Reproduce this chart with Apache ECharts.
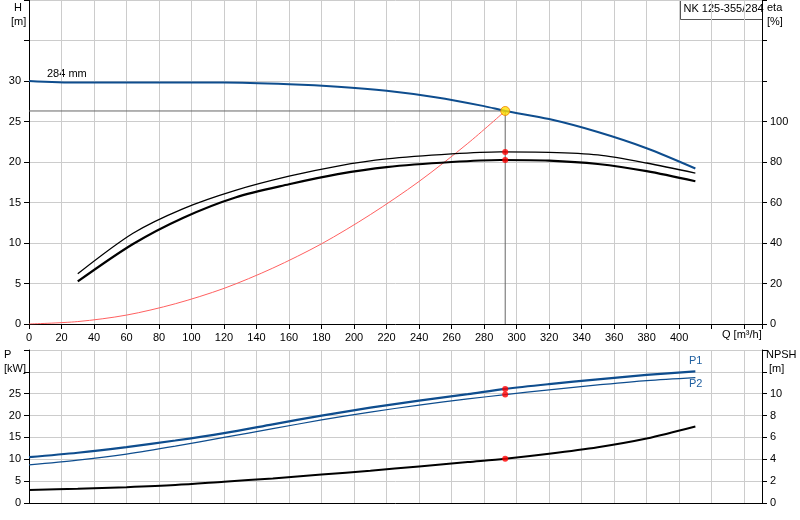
<!DOCTYPE html><html><head><meta charset="utf-8"><script src="https://cdn.jsdelivr.net/npm/echarts@6/dist/echarts.min.js"></script></head><body style="margin:0"><div id="c" style="width:800px;height:520px"></div><script>
const qH=[0,30,60,120,160,190,220,250,280,293,320,350,380,410];
const H=[30,29.8,29.8,29.8,29.6,29.3,28.8,28.0,26.9,26.3,25.3,23.7,21.7,19.2];
const qE=[30,64,95,127,160,190,220,260,290,320,350,380,410];
const etaP=[24.8,44.8,57,66,73,78,81.5,84,85,84.8,83.5,79.5,74.5];
const etaT=[21,39.5,52.5,62.5,69,74,77.5,80,81,80.7,79,75.5,70.5];
const qS=[0,30,60,90,120,150,180,210,240,270,293];
const Hs=[0,0.3,1.1,2.5,4.4,6.9,9.9,13.5,17.6,22.3,26.3];
const qP=[0,30,60,90,120,150,180,210,240,270,293,320,350,380,410];
const P1=[10.5,11.5,12.8,14.3,16.0,18.0,20.0,21.8,23.4,24.9,26.1,27.2,28.3,29.3,30.1];
const P2=[8.7,9.8,11.2,13.0,15.0,17.0,19.0,20.8,22.4,23.8,24.8,25.9,27.0,28.0,28.7];
const NPSH=[1.2,1.3,1.45,1.65,1.95,2.25,2.6,2.95,3.35,3.75,4.05,4.5,5.1,5.9,7.0];
const Qd=293, Hd=26.3;
const z=(a,b)=>a.map((v,i)=>[v,b[i]]);
const fs={fontFamily:'Liberation Sans',fontSize:11,color:'#000'};
const gl={show:true,lineStyle:{color:'#ccc'}};
function xa(g,lab){return {type:'value',gridIndex:g,min:0,max:451,interval:20,axisLine:{lineStyle:{color:'#000'}},axisTick:{show:lab},splitLine:gl,axisLabel:{show:lab,...fs,formatter:v=>v<=400?v:''}};}
function ya(g,max,int,pos,lab){return {type:'value',gridIndex:g,min:0,max:max,interval:int,position:pos,axisLine:{show:true,lineStyle:{color:'#000'}},axisTick:{show:true},splitLine:pos=='left'?gl:{show:false},axisLabel:{...fs,formatter:v=>v<=lab?v:''}};}
const ln=(x,y,d,c,w,extra)=>Object.assign({type:'line',xAxisIndex:x,yAxisIndex:y,data:d,showSymbol:false,smooth:0.3,lineStyle:{color:c,width:w},silent:true},extra||{});
const opt={animation:false,
grid:[{left:29,right:38,top:0,height:324},{left:29,right:38,top:350,height:153}],
xAxis:[xa(0,true),xa(1,false)],
yAxis:[ya(0,40,5,'left',30),ya(0,160,20,'right',100),ya(1,35,5,'left',25),ya(1,14,2,'right',10)],
graphic:[
{type:'text',left:11,top:1,style:{text:' H\n[m]',...fs,fill:'#000',lineHeight:14}},
{type:'text',left:767,top:1,style:{text:'eta\n[%]',...fs,fill:'#000',lineHeight:14}},
{type:'text',left:4,top:348,style:{text:'P\n[kW]',...fs,fill:'#000',lineHeight:14}},
{type:'text',left:766,top:348,style:{text:'NPSH\n [m]',...fs,fill:'#000',lineHeight:14}},
{type:'text',left:722,top:329,style:{text:'Q [m³/h]',...fs,fill:'#000'}},
{type:'text',left:47,top:68,style:{text:'284 mm',...fs,fill:'#000'}},
{type:'text',left:689,top:355,style:{text:'P1',...fs,fill:'#1f5fa0'}},
{type:'text',left:689,top:378,style:{text:'P2',...fs,fill:'#1f5fa0'}},
{type:'group',left:680,top:0,children:[{type:'rect',shape:{width:82,height:19},style:{fill:'#fff',stroke:'#555'}},{type:'text',left:3,top:3,style:{text:'NK 125-355/284',...fs,fill:'#000'}}]}
],
series:[
ln(0,0,[[0,Hd],[Qd,Hd],[Qd,0]],'#666',1,{smooth:false}),
ln(0,0,z(qS,Hs),'#ff6060',1),
ln(0,0,z(qH,H),'#0e4d8e',2),
ln(0,1,z(qE,etaP),'#000',1.3),
ln(0,1,z(qE,etaT),'#000',2.2),
{type:'scatter',xAxisIndex:0,yAxisIndex:0,data:[[Qd,Hd]],symbolSize:9,itemStyle:{color:'#ffe000',borderColor:'#f08000',borderWidth:1},z:5},
{type:'scatter',xAxisIndex:0,yAxisIndex:1,data:[[Qd,85],[Qd,81]],symbolSize:6,itemStyle:{color:'#f00'},z:5},
ln(1,2,z(qP,P1),'#0e4d8e',2.2),
ln(1,2,z(qP,P2),'#0e4d8e',1.2),
ln(1,3,z(qP,NPSH),'#000',2),
{type:'scatter',xAxisIndex:1,yAxisIndex:2,data:[[Qd,26.1],[Qd,24.8]],symbolSize:6,itemStyle:{color:'#f00'},z:5},
{type:'scatter',xAxisIndex:1,yAxisIndex:3,data:[[Qd,4.05]],symbolSize:6,itemStyle:{color:'#f00'},z:5}
]};
echarts.init(document.getElementById('c')).setOption(opt);
</script></body></html>
